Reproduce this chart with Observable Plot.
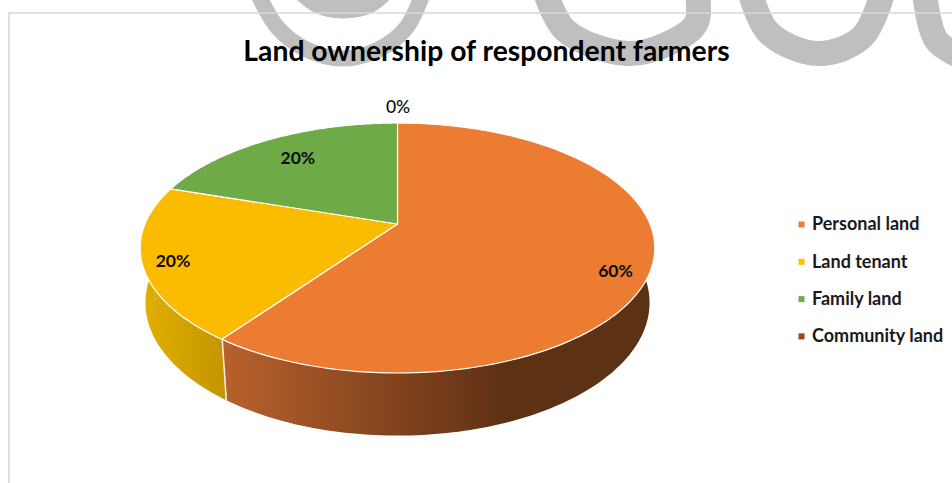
<!DOCTYPE html>
<html>
<head>
<meta charset="utf-8">
<script src="https://cdn.jsdelivr.net/npm/d3@7"></script>
<script src="https://cdn.jsdelivr.net/npm/@observablehq/plot@0.6"></script>
<style>
  html, body { margin: 0; padding: 0; background: #fff; }
</style>
</head>
<body>
<div id="chart"></div>
<script>
// Survey shares, clockwise from twelve o'clock
const categories = ["Personal land", "Land tenant", "Family land", "Community land"];
const shares = [60, 20, 20, 0];
const topColors = ["#EB7C31", "#FBBC00", "#6EAB47", "#9E480E"];
const legendColors = ["#ED7D31", "#FFC000", "#70AD47", "#9E480E"];

// Where each percentage sits on the disc: turn added to the slice middle (degrees), radius fraction
const labelTurn = [6.4, -1, 0, 0];
const labelRadius = [0.88, 0.89, 0.754, 1.195];

// Camera for the tilted disc
const view = {cx: 397.5, cy: 224, a: 252.5, b: 120.4, k: 0.192, depth: 54.8, sink: 0.02};
const rad = (deg) => (deg * Math.PI) / 180;

// Projects a point of the unit disc; lower = true gives the underside of the disc
function project(deg, r = 1, lower = false) {
  const X = r * Math.sin(rad(deg));
  const Y = r * Math.cos(rad(deg));
  const w = 1 + view.k * Y + (lower ? view.sink : 0);
  return {
    x: view.cx + (view.a * X) / w,
    y: view.cy - (view.b * Y - (lower ? view.depth : 0)) / w
  };
}

// Cumulative angles from the shares
const total = d3.sum(shares);
let running = 0;
const slices = categories.map((name, i) => {
  const start = (running / total) * 360;
  running += shares[i];
  const end = (running / total) * 360;
  return {name, share: shares[i], start, end, color: topColors[i], i};
});

const arcSteps = (a0, a1) => d3.range(0, 121).map((t) => a0 + ((a1 - a0) * t) / 120);

// Top of a slice: a fan from the apex to the rim
const fan = (s) =>
  arcSteps(s.start, s.end).map((deg) => {
    const p = project(deg);
    return {x1: view.cx, y1: view.cy, x2: p.x, y2: p.y};
  });

// Outer wall between two angles
const wall = (a0, a1) =>
  arcSteps(a0, a1).map((deg) => {
    const t = project(deg);
    const u = project(deg, 1, true);
    return {x1: t.x, y1: t.y, x2: u.x, y2: u.y};
  });

const seam = [slices[0].end].map((deg) => {
  const t = project(deg);
  const u = project(deg, 1, true);
  return {x1: t.x, y1: t.y, x2: u.x, y2: u.y};
});

const labels = slices.map((s) => {
  const p = project((s.start + s.end) / 2 + labelTurn[s.i], labelRadius[s.i]);
  return {x: p.x, y: p.y, text: `${s.share}%`, share: s.share};
});

// Legend rows
const legendX = 801;
const legendRows = categories.map((name, i) => ({name, color: legendColors[i], y: 224 + i * 37.3}));

// Grey lettering printed across the top of the page
const stampStrokes = [
  {w: 16, pts: [[255, -12], [277, 27], [306, 49], [342, 58], [378, 49], [406, 27], [424, -12]]},
  {w: 20, pts: [[297, -14], [318, 3], [342, 8], [368, 3], [388, -14]]},
  {w: 25, pts: [[543, -14], [565, 30], [627, 53], [670, 42], [696, 22], [696, -14]]},
  {w: 25, pts: [[748, -14], [768, 32], [818, 53], [862, 36], [884, -14]]},
  {w: 25, pts: [[924, -8], [936, 40], [965, 58]]}
];
const stampRows = stampStrokes.flatMap((s, id) => s.pts.map(([x, y]) => ({id, x, y})));

const fontFamily = "Lato, Carlito, sans-serif";

const chart = Plot.plot({
  width: 952,
  height: 483,
  margin: 0,
  x: {domain: [0, 952], range: [0, 952], axis: null},
  y: {domain: [0, 483], range: [0, 483], axis: null},
  style: {background: "transparent"},
  marks: [
    // Gradients for the shaded wall
    () => {
      const svg = d3.create("svg:g");
      const defs = svg.append("defs");
      const addGradient = (id, stops) => {
        const g = defs.append("linearGradient").attr("id", id).attr("x1", "0%").attr("x2", "100%").attr("y1", "0%").attr("y2", "0%");
        stops.forEach(([o, c]) => g.append("stop").attr("offset", o).attr("stop-color", c));
      };
      addGradient("wall-personal", [["0%", "#B8622C"], ["45%", "#7B3F1B"], ["66%", "#5D3114"], ["100%", "#5D3114"]]);
      addGradient("wall-tenant", [["0%", "#E2B000"], ["100%", "#C49500"]]);
      return svg.node();
    },
    ...stampStrokes.map((s, id) =>
      Plot.line(stampRows.filter((d) => d.id === id), {x: "x", y: "y", stroke: "#BFBFBF", strokeWidth: s.w, curve: "catmull-rom", strokeLinecap: "butt"})
    ),
    Plot.ruleY([12.5], {x1: 8.5, x2: 952, stroke: "#D9D9D9", strokeWidth: 1.6}),
    Plot.ruleX([8.5], {y1: 12.5, y2: 483, stroke: "#D9D9D9", strokeWidth: 1.6}),

    // Wall of the disc, hidden ends run under the top face
    Plot.area(wall(80, slices[0].end), {x1: "x1", y1: "y1", x2: "x2", y2: "y2", fill: "url(#wall-personal)"}),
    Plot.area(wall(slices[0].end, 285), {x1: "x1", y1: "y1", x2: "x2", y2: "y2", fill: "url(#wall-tenant)"}),
    Plot.link(seam, {x1: "x1", y1: "y1", x2: "x2", y2: "y2", stroke: "#F4EDE4", strokeWidth: 1.5}),

    // Top face
    ...slices.filter((s) => s.share > 0).map((s) =>
      Plot.area(fan(s), {x1: "x1", y1: "y1", x2: "x2", y2: "y2", fill: s.color, stroke: "#fff", strokeWidth: 1.2})
    ),

    // Percentages
    Plot.text(labels.filter((d) => d.share > 0), {x: "x", y: "y", text: "text", fontSize: 17.5, fontWeight: 700, fontFamily, fill: "#0d0d0d"}),
    Plot.text(labels.filter((d) => d.share === 0), {x: "x", y: "y", text: "text", fontSize: 17.5, fontWeight: 500, fontFamily, fill: "#0d0d0d"}),

    // Title
    Plot.text(["Land ownership of respondent farmers"], {x: () => 486, y: () => 51, fontSize: 28.3, fontWeight: 700, fontFamily, fill: "#000"}),

    // Legend
    Plot.dot(legendRows, {x: () => legendX, y: "y", symbol: "square", r: 3.4, fill: "color"}),
    Plot.text(legendRows, {x: () => legendX + 10.5, y: "y", text: "name", textAnchor: "start", fontSize: 18, fontWeight: 700, fontFamily, fill: "#1a1a1a"})
  ]
});

document.getElementById("chart").append(chart);
</script>
</body>
</html>
